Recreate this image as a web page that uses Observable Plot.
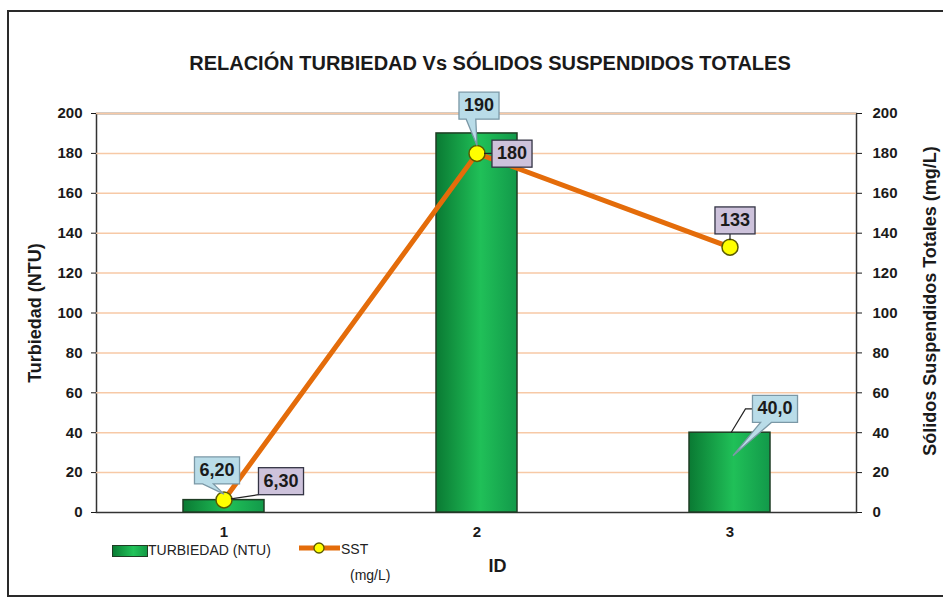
<!DOCTYPE html>
<html><head><meta charset="utf-8">
<script src="https://cdn.jsdelivr.net/npm/d3@7"></script>
<script src="https://cdn.jsdelivr.net/npm/@observablehq/plot@0.6"></script>
<style>
body{margin:0;background:#fff;font-family:"Liberation Sans",Arial,sans-serif;}
#wrap{position:relative;width:943px;height:599px;overflow:hidden;background:#fff;}
#wrap svg.plot{position:absolute;left:0;top:0;}
#frame{position:absolute;left:7px;top:10px;width:980px;height:583px;border:2px solid #2a2a2a;}
#title{position:absolute;top:52px;left:0;width:980px;text-align:center;font-weight:bold;font-size:20px;color:#1a1a1a;}
.leg{position:absolute;font-size:14px;color:#222;line-height:16px;}
#legTurbIcon{position:absolute;left:112px;top:545px;width:34px;height:10px;border:1px solid #1f3d24;background:linear-gradient(to right,#0a7d34,#22c35a 60%,#139a45);}
#legSstIcon{position:absolute;left:298px;top:538px;}
</style>
</head><body>
<div id="wrap">
  <div id="frame"></div>
  <div id="title">RELACIÓN TURBIEDAD Vs SÓLIDOS SUSPENDIDOS TOTALES</div>
  <div id="legTurbIcon"></div>
  <div class="leg" style="left:148px;top:542px;">TURBIEDAD (NTU)</div>
  <svg id="legSstIcon" width="44" height="20"><line x1="1" y1="10" x2="42" y2="10" stroke="#e46c0a" stroke-width="5"/><circle cx="21" cy="10" r="5" fill="#ffff00" stroke="#5a5a00" stroke-width="1.3"/></svg>
  <div class="leg" style="left:341px;top:541px;">SST</div>
  <div class="leg" style="left:350px;top:567px;">(mg/L)</div>
</div>
<script>
// ---- data ----
const ids = ["1", "2", "3"];
const turbidity = [6.2, 190, 40.0];
const sst = [6.3, 180, 133];
const yTicks = [0, 20, 40, 60, 80, 100, 120, 140, 160, 180, 200];

const data = ids.map((id, i) => ({id, turb: turbidity[i], sst: sst[i]}));
const fmt = v => d3.format(".3r")(v).replace(".", ",");

// callout layout (offsets from the data point, in px)
const callouts = [
  {series: "turb", i: 0, dx: -7, dy: -30, kind: "wedge", tip: [0, -6]},
  {series: "turb", i: 1, dx: 2, dy: -28, kind: "wedge", tip: [0, 12]},
  {series: "turb", i: 2, dx: 45, dy: -24, kind: "wedge", tip: [3, 23], leader: true},
  {series: "sst", i: 0, dx: 57, dy: -19, kind: "line"},
  {series: "sst", i: 1, dx: 35, dy: 0, kind: "line"},
  {series: "sst", i: 2, dx: 5, dy: -27, kind: "line"}
];

const chart = Plot.plot({
  width: 943, height: 599,
  marginTop: 113, marginBottom: 87, marginLeft: 96, marginRight: 87,
  style: {fontFamily: "'Liberation Sans', Arial, sans-serif", fontSize: "15px", fontWeight: "bold", color: "#1a1a1a", background: "transparent", overflow: "visible"},
  x: {domain: ids, paddingInner: 0.68, paddingOuter: 0.34},
  y: {domain: [0, 200]},
  marks: [
    Plot.frame({stroke: "#333", strokeWidth: 1.5}),
    Plot.gridY(yTicks.filter(v => v > 0), {stroke: "#f7c9a6", strokeOpacity: 1, strokeWidth: 1.5}),
    Plot.axisY(yTicks, {anchor: "left", tickSize: 5, tickPadding: 9, label: null, fontSize: 15, fontWeight: "bold"}),
    Plot.axisY(yTicks, {anchor: "right", tickSize: 5, tickPadding: 11, label: null, fontSize: 15, fontWeight: "bold"}),
    Plot.axisX({tickSize: 0, tickPadding: 14, label: null, fontSize: 15, fontWeight: "bold"}),
    Plot.text(["Turbiedad (NTU)"], {frameAnchor: "left", textAnchor: "middle", rotate: -90, dx: -61, fontSize: 18, fontWeight: "bold"}),
    Plot.text(["Sólidos Suspendidos Totales (mg/L)"], {frameAnchor: "right", textAnchor: "middle", rotate: -90, dx: 74, dy: -12, fontSize: 18, fontWeight: "bold"}),
    Plot.text(["ID"], {frameAnchor: "bottom", dx: 21, dy: 59, fontSize: 18, fontWeight: "bold"}),
    Plot.barY(data, {x: "id", y: "turb", fill: "url(#barGrad)", stroke: "#1f3d24", strokeWidth: 1.5}),
    Plot.lineY(data, {x: "id", y: "sst", stroke: "#e46c0a", strokeWidth: 5}),
    Plot.dot(data, {x: "id", y: "sst", r: 8, fill: "#ffff00", stroke: "#5a5a00", strokeWidth: 1.5}),
    ...callouts.map(c => Plot.text([data[c.i]], {
      x: "id", y: c.series, text: d => fmt(d[c.series]),
      dx: c.dx, dy: c.dy, fontSize: 18, fontWeight: "bold", fill: "#1a1a1a"
    }))
  ]
});
chart.classList.add("plot");
document.getElementById("wrap").insertBefore(chart, document.getElementById("title"));

const NS = "http://www.w3.org/2000/svg";
// gradient for bars
const defs = document.createElementNS(NS, "defs");
defs.innerHTML = `<linearGradient id="barGrad" x1="0" x2="1" y1="0" y2="0">
  <stop offset="0" stop-color="#0a7a33"/><stop offset="0.55" stop-color="#20c058"/><stop offset="1" stop-color="#12994a"/></linearGradient>`;
chart.insertBefore(defs, chart.firstChild);

// callout boxes
const textEls = [...chart.querySelectorAll('g[aria-label="text"] text')];
callouts.forEach(c => {
  const label = fmt(data[c.i][c.series]);
  const t = textEls.find(e => e.textContent === label);
  if (!t) return;
  const g = t.parentNode;
  const b = t.getBBox();
  const m = t.getCTM();
  const padX = 5, padY = 4;
  const x0 = m.e + b.x - padX, x1 = m.e + b.x + b.width + padX;
  const y0 = m.f + b.y - padY + 1, y1 = m.f + b.y + b.height + padY;
  const ax = m.e - c.dx, ay = m.f - c.dy;
  const bg = document.createElementNS(NS, "g");
  const w = x1 - x0;
  if (c.kind === "wedge") {
    const fill = "#b9dce8", stroke = "#7b98a6";
    if (c.leader) {
      const l = document.createElementNS(NS, "polyline");
      const my = (y0 + y1) / 2;
      l.setAttribute("points", `${x0},${my} ${x0 - 7},${my} ${ax + 1},${ay}`);
      l.setAttribute("fill", "none"); l.setAttribute("stroke", "#222"); l.setAttribute("stroke-width", "1.2");
      bg.appendChild(l);
    }
    const b1 = x0 + w * 0.18, b2 = x0 + w * 0.42;
    const p = document.createElementNS(NS, "path");
    p.setAttribute("d", `M${x0},${y0}H${x1}V${y1}H${b2}L${ax + c.tip[0]},${ay + c.tip[1]}L${b1},${y1}H${x0}Z`);
    p.setAttribute("fill", fill); p.setAttribute("stroke", stroke); p.setAttribute("stroke-width", "1.3");
    bg.appendChild(p);
  } else {
    const fill = "#cdc2db", stroke = "#333344";
    const nx = Math.max(x0, Math.min(ax, x1)), ny = Math.max(y0, Math.min(ay, y1));
    const dxl = ax - nx, dyl = ay - ny, len = Math.hypot(dxl, dyl);
    if (len > 9) {
      const l = document.createElementNS(NS, "line");
      l.setAttribute("x1", nx); l.setAttribute("y1", ny);
      l.setAttribute("x2", ax - dxl / len * 7); l.setAttribute("y2", ay - dyl / len * 7);
      l.setAttribute("stroke", "#222"); l.setAttribute("stroke-width", "1.2");
      bg.appendChild(l);
    }
    const r = document.createElementNS(NS, "rect");
    r.setAttribute("x", x0); r.setAttribute("y", y0); r.setAttribute("width", w); r.setAttribute("height", y1 - y0);
    r.setAttribute("fill", fill); r.setAttribute("stroke", stroke); r.setAttribute("stroke-width", "1.3");
    bg.appendChild(r);
  }
  g.parentNode.insertBefore(bg, g);
});
</script>
</body></html>
